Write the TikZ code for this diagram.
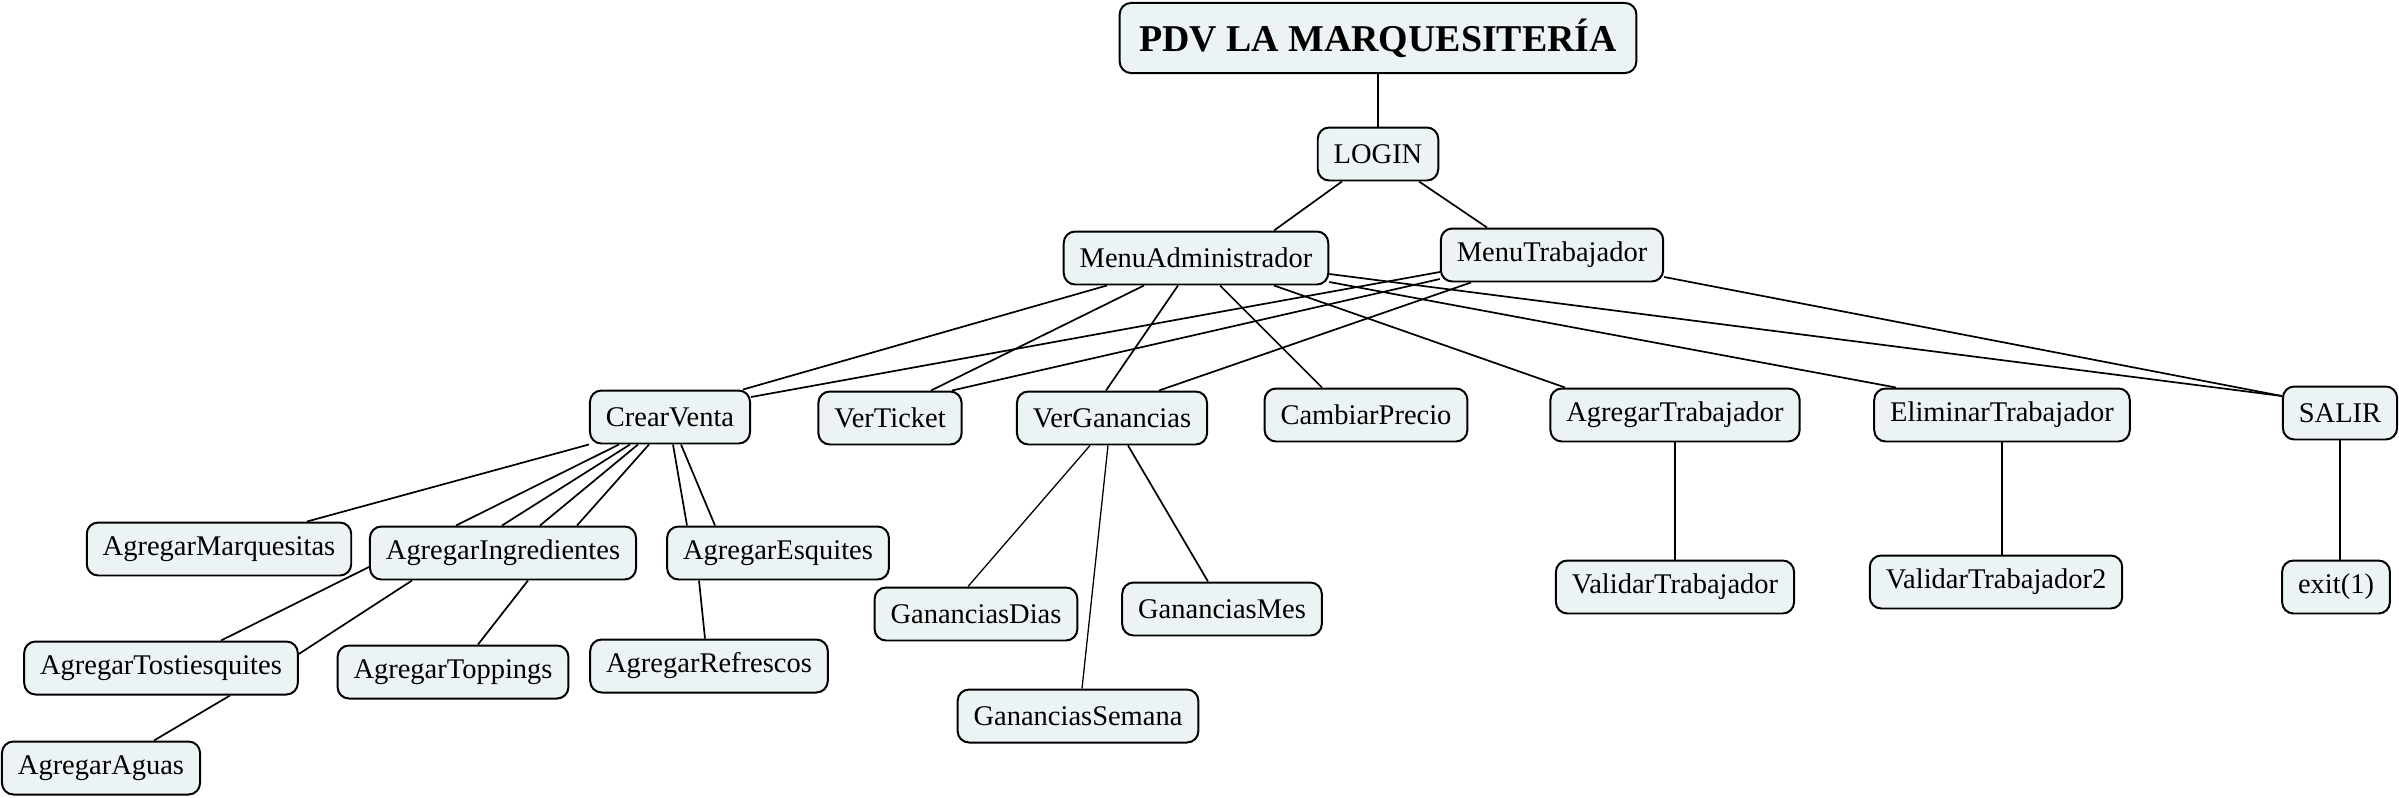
\documentclass[tikz,border=0pt]{standalone}
\usepackage{fontspec}
\setmainfont{Liberation Serif}
\usepackage{xcolor}
\usetikzlibrary{calc}
\definecolor{boxfill}{HTML}{EBF3F5}

\begin{document}
\begin{tikzpicture}[x=0.351pt, y=-0.351pt,
  box/.style={draw, line width=0.7pt, fill=boxfill, rounded corners=4pt,
    minimum height=18.6pt, inner xsep=5.6pt, inner ysep=0pt,
    font=\fontsize{10}{12}\selectfont},
  titlebox/.style={box, minimum height=24.6pt, inner xsep=6.8pt,
    font=\fontsize{13.3}{16}\selectfont\bfseries},
  link/.style={line width=0.6pt},
  thinlink/.style={line width=0.45pt}]
\useasboundingbox (0,0) rectangle (2399,798);

\node[titlebox] (title) at (1378,38) {PDV LA MARQUESITERÍA};
\node[box] (login) at (1378,154) {LOGIN};
\node[box] (madmin) at (1196,258) {MenuAdministrador};
\node[box] (mtrab) at (1552,255) {MenuTrabajador};

\node[box] (cventa) at (670,417) {CrearVenta};
\node[box] (vticket) at (890,418) {VerTicket};
\node[box] (vganancias) at (1112,418) {VerGanancias};
\node[box] (cprecio) at (1366,415) {CambiarPrecio};
\node[box] (atrab) at (1675,415) {AgregarTrabajador};
\node[box] (etrab) at (2002,415) {EliminarTrabajador};
\node[box] (salir) at (2340,413) {SALIR};

\node[box] (amarq) at (219,549) {AgregarMarquesitas};
\node[box] (aingr) at (503,553) {AgregarIngredientes};
\node[box] (aesq) at (778,553) {AgregarEsquites};
\node[box] (atost) at (161,668) {AgregarTostiesquites};
\node[box] (atopp) at (453,672) {AgregarToppings};
\node[box] (arefr) at (709,666) {AgregarRefrescos};
\node[box] (aaguas) at (101,768) {AgregarAguas};

\node[box] (gdias) at (976,614) {GananciasDias};
\node[box] (gmes) at (1222,609) {GananciasMes};
\node[box] (gsemana) at (1078,716) {GananciasSemana};

\node[box] (vtrab) at (1675,587) {ValidarTrabajador};
\node[box] (vtrab2) at (1996,582) {ValidarTrabajador2};
\node[box] (exit) at (2336,587) {exit(1)};

\draw[thinlink] (title.south) -- (login.north);
\draw[link] ($(login.south)+(-36,0)$) -- ($(madmin.north)+(78,0)$);
\draw[link] ($(login.south)+(41,0)$) -- ($(mtrab.north)+(-65,0)$);

% MenuAdministrador
\draw[link] ($(madmin.south)+(-89,0)$) -- ($(cventa.north)+(73,0)$);
\draw[link] ($(madmin.south)+(-52,0)$) -- ($(vticket.north)+(41,0)$);
\draw[link] ($(madmin.south)+(-18,0)$) -- ($(vganancias.north)+(-6,0)$);
\draw[link] ($(madmin.south)+(24,0)$) -- ($(cprecio.north)+(-44,0)$);
\draw[link] ($(madmin.south)+(78,0)$) -- ($(atrab.north)+(-110,0)$);
\draw[link] ($(madmin.east)+(0,24)$) -- ($(etrab.north)+(-106,0)$);
\draw[link] ($(madmin.east)+(0,16)$) -- ($(salir.west)+(0,-17)$);

% MenuTrabajador
\draw[link] ($(mtrab.west)+(0,17)$) -- ($(cventa.east)+(0,-20)$);
\draw[link] ($(mtrab.west)+(0,24)$) -- ($(vticket.north)+(62,0)$);
\draw[link] ($(mtrab.south)+(-81,0)$) -- ($(vganancias.north)+(47,0)$);
\draw[link] ($(mtrab.east)+(0,22)$) -- ($(salir.west)+(0,-17)$);

% CrearVenta
\draw[link] (cventa.south west) -- ($(amarq.north)+(88,0)$);
\draw[link] ($(cventa.south)+(-51,0)$) -- ($(aingr.north)+(-47,0)$);
\draw[link] ($(cventa.south)+(-40,0)$) -- ($(aingr.north)+(-1,0)$);
\draw[link] ($(cventa.south)+(-32,0)$) -- ($(aingr.north)+(37,0)$);
\draw[link] ($(cventa.south)+(-21,0)$) -- ($(aingr.north)+(74,0)$);
\draw[link] ($(cventa.south)+(3,0)$) -- ($(aesq.north)+(-91,0)$);
\draw[link] ($(cventa.south)+(11,0)$) -- ($(aesq.north)+(-63,0)$);

\draw[link] ($(aingr.west)+(0,14)$) -- ($(atost.north)+(60,0)$);
\draw[link] ($(aingr.south)+(-91,0)$) -- ($(atost.east)+(0,-14)$);
\draw[link] ($(aingr.south)+(25,0)$) -- ($(atopp.north)+(25,0)$);
\draw[link] ($(atost.south)+(69,0)$) -- ($(aaguas.north)+(53,0)$);
\draw[link] ($(aesq.south)+(-79,0)$) -- ($(arefr.north)+(-4,0)$);

% VerGanancias
\draw[thinlink] ($(vganancias.south)+(-22,0)$) -- ($(gdias.north)+(-8,0)$);
\draw[thinlink] ($(vganancias.south)+(-4,0)$) -- ($(gsemana.north)+(4,0)$);
\draw[link] ($(vganancias.south)+(16,0)$) -- ($(gmes.north)+(-14,0)$);

\draw[thinlink] (atrab.south) -- (vtrab.north);
\draw[thinlink] (etrab.south) -- (etrab.south |- vtrab2.north);
\draw[link] (salir.south) -- (salir.south |- exit.north);
\end{tikzpicture}
\end{document}
